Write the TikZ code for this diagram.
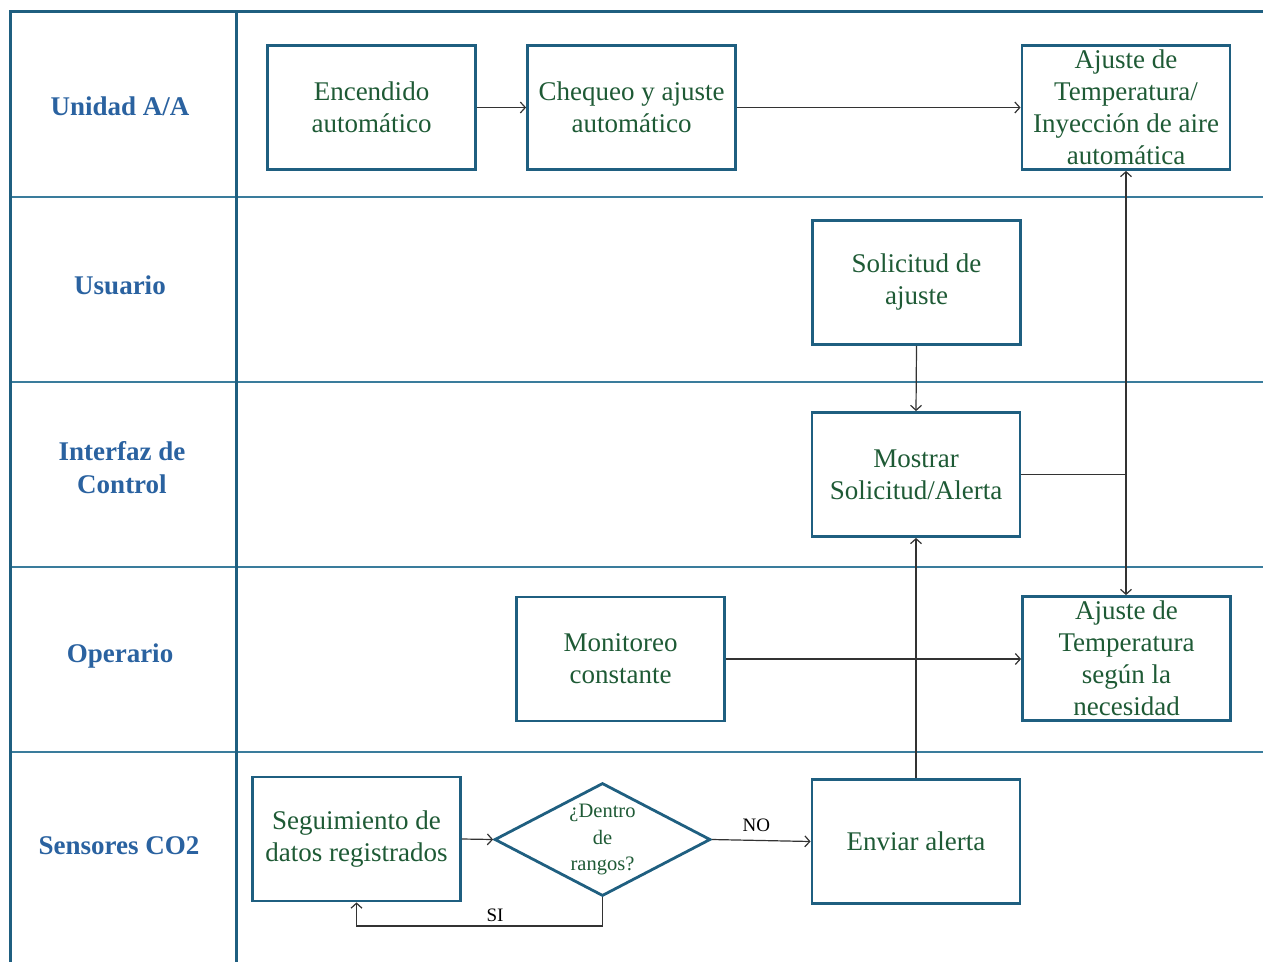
\documentclass[tikz,border=0pt]{standalone}
\usepackage{fontspec}
\setmainfont{Liberation Serif}
\usetikzlibrary{arrows.meta,shapes.geometric}
\definecolor{frame}{HTML}{1F5F80}
\definecolor{lane}{HTML}{3A7C9C}
\definecolor{txtgreen}{HTML}{1E5A35}
\definecolor{lblblue}{HTML}{2A62A0}
\begin{document}
\begin{tikzpicture}[x=1pt,y=-1pt,
  procbox/.style={draw=frame,line width=2.8pt,minimum width=208pt,minimum height=124pt,
    align=center,text=txtgreen,font=\fontsize{27}{32}\selectfont,inner sep=1pt},
  decbox/.style={draw=frame,line width=2.8pt,diamond,aspect=1.9,minimum width=216pt,minimum height=113pt,
    align=center,text=txtgreen,font=\fontsize{20.5}{26.5}\selectfont,inner sep=0pt},
  lanelbl/.style={align=center,text=lblblue,font=\bfseries\fontsize{27}{33}\selectfont},
  conn/.style={draw=black!80,line width=1.2pt,-{Straight Barb[length=5pt,width=11pt,line width=1.2pt]}},
  plainconn/.style={draw=black!80,line width=1.2pt},
  edgelbl/.style={font=\fontsize{19}{21}\selectfont,text=black}]
\useasboundingbox (0,0) rectangle (1263,961);
\begin{scope}
\clip (0,0) rectangle (1263,961);
% lane lines
\foreach \yy in {197,382,567,752}
  \draw[lane,line width=2pt] (10,\yy) -- (1270,\yy);
% outer frame
\draw[frame,line width=3pt] (1270,11) -- (10,11) -- (10,970);
\draw[frame,line width=3pt] (236,11) -- (236,970);
\end{scope}
% lane labels
\node[lanelbl] (l1) at (120,106) {Unidad A/A};
\node[lanelbl] (l2) at (120,285) {Usuario};
\node[lanelbl] (l3) at (122,468) {Interfaz de\\Control};
\node[lanelbl] (l4) at (120,656) {Operario};
\node[lanelbl] (l5) at (119,846) {Sensores CO2};
% boxes
\node[procbox] (enc) at (371.5,107.5) {Encendido\\automático};
\node[procbox] (che) at (631.5,107.5) {Chequeo y ajuste\\automático};
\node[procbox] (aaa) at (1126,107.5) {Ajuste de\\Temperatura/\\Inyección de aire\\automática};
\node[procbox] (sol) at (916.5,282.5) {Solicitud de\\ajuste};
\node[procbox] (mos) at (916,474.5) {Mostrar\\Solicitud/Alerta};
\node[procbox] (mon) at (620.5,659) {Monitoreo\\constante};
\node[procbox] (atp) at (1126.5,658.5) {Ajuste de\\Temperatura\\según la\\necesidad};
\node[procbox] (seg) at (356.5,839) {Seguimiento de\\datos registrados};
\node[decbox] (dec) at (602.5,839.5) {¿Dentro\\de\\rangos?};
\node[procbox] (env) at (916,841.5) {Enviar alerta};
% connectors
\draw[conn] (enc.east) -- (che.west);
\draw[conn] (che.east) -- (che.east -| aaa.west);
\draw[conn] (sol.south) -- (mos.north);
\coordinate (jn) at (1126,474.5);
\draw[plainconn] (mos.east) -- (jn);
\draw[conn] (jn) -- (aaa.south);
\draw[conn] (jn) -- (atp.north -| jn);
\draw[conn] (mon.east) -- (mon.east -| atp.west);
\draw[conn] (env.north) -- (mos.south);
\draw[conn] (seg.east) -- (dec.west);
\draw[conn] (dec.east) -- node[edgelbl,above=5pt,pos=0.45] {NO} (env.west);
\coordinate (sibend) at (602.5,926);
\draw[conn] (dec.south) -- (sibend) -| (seg.south);
\node[edgelbl] (si) at (495,915) {SI};
\end{tikzpicture}
\end{document}
